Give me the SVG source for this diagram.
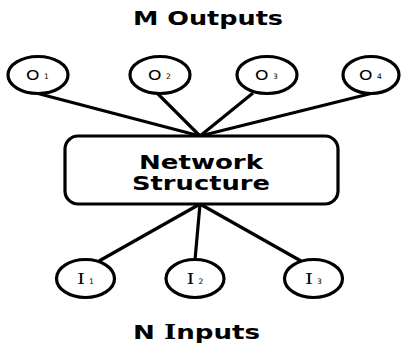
<svg xmlns="http://www.w3.org/2000/svg" width="401" height="347" viewBox="0 0 401 347">
<style>
.node{fill:#fff;stroke:#000;stroke-width:3.2}
.edge{stroke:#000;stroke-width:3.2;fill:none}
.title{font-family:"DejaVu Sans",sans-serif;font-weight:bold;font-size:19.5px;fill:#000}
.ser{font-family:"DejaVu Serif",serif;font-weight:bold}
.lbl{font-family:"DejaVu Sans",sans-serif;font-size:14px;fill:#000}
.lbli{font-family:"DejaVu Serif",serif;font-size:14px;fill:#000}
.sub{font-family:"DejaVu Sans",sans-serif;font-size:7.5px;fill:#000}
</style>
<rect width="401" height="347" fill="#fff"/>
<g id="connectors">
<line class="edge" x1="36" y1="93" x2="200" y2="136"/>
<line class="edge" x1="157" y1="93" x2="200" y2="136"/>
<line class="edge" x1="253" y1="93" x2="200" y2="136"/>
<line class="edge" x1="373" y1="93" x2="200" y2="136"/>
<line class="edge" x1="200" y1="204" x2="99" y2="261"/>
<line class="edge" x1="200" y1="204" x2="195" y2="260"/>
<line class="edge" x1="200" y1="204" x2="301" y2="261"/>
</g>
<text class="title" x="133" y="25" textLength="150" lengthAdjust="spacingAndGlyphs">M Outputs</text>
<g id="O1"><ellipse class="node" cx="38" cy="75" rx="30" ry="18.5"/><text class="lbl" x="26" y="79.5" textLength="13.5" lengthAdjust="spacingAndGlyphs">O</text><text class="sub" x="44" y="79">1</text></g>
<g id="O2"><ellipse class="node" cx="160" cy="75" rx="30" ry="18.5"/><text class="lbl" x="148" y="79.5" textLength="13.5" lengthAdjust="spacingAndGlyphs">O</text><text class="sub" x="166" y="79">2</text></g>
<g id="O3"><ellipse class="node" cx="267" cy="75" rx="30" ry="18.5"/><text class="lbl" x="255" y="79.5" textLength="13.5" lengthAdjust="spacingAndGlyphs">O</text><text class="sub" x="273" y="79">3</text></g>
<g id="O4"><ellipse class="node" cx="371" cy="75" rx="28" ry="18.5"/><text class="lbl" x="359" y="79.5" textLength="13.5" lengthAdjust="spacingAndGlyphs">O</text><text class="sub" x="377" y="79">4</text></g>
<g id="network"><rect class="node" x="65" y="136" width="273" height="68" rx="13"/>
<text class="title" x="139" y="169" textLength="124" lengthAdjust="spacingAndGlyphs">Network</text>
<text class="title" x="132" y="190" textLength="138" lengthAdjust="spacingAndGlyphs">Structure</text></g>
<g id="I1"><ellipse class="node" cx="85.5" cy="278.5" rx="29" ry="19"/><text class="lbli" x="77" y="284" textLength="8" lengthAdjust="spacingAndGlyphs">I</text><text class="sub" x="89" y="284">1</text></g>
<g id="I2"><ellipse class="node" cx="195" cy="278.5" rx="29" ry="19"/><text class="lbli" x="186.5" y="284" textLength="8" lengthAdjust="spacingAndGlyphs">I</text><text class="sub" x="198.5" y="284">2</text></g>
<g id="I3"><ellipse class="node" cx="313.5" cy="278.5" rx="29" ry="19"/><text class="lbli" x="305" y="284" textLength="8" lengthAdjust="spacingAndGlyphs">I</text><text class="sub" x="317" y="284">3</text></g>
<text class="title" x="133" y="339" textLength="127" lengthAdjust="spacingAndGlyphs">N <tspan class="ser">I</tspan>nputs</text>
</svg>
